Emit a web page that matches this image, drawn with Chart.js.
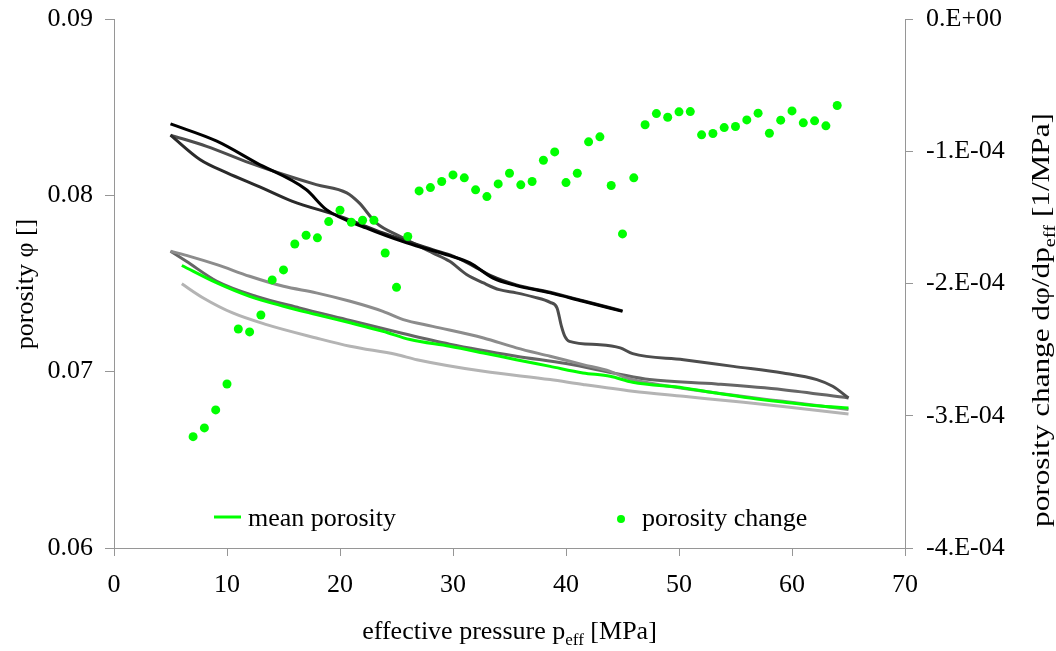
<!DOCTYPE html>
<html><head><meta charset="utf-8">
<script src="https://cdn.jsdelivr.net/npm/chart.js@4.4.1/dist/chart.umd.min.js"></script>
<style>html,body{margin:0;padding:0;background:#fff;}</style>
</head><body>
<canvas id="c" width="1056" height="651" style="display:block;width:1056px;height:651px"></canvas>
<script>
const FONT = "'Liberation Serif','Times New Roman',serif";

// x-axis ticks (MPa) and y tick ranges
const pressureTicks = [0, 10, 20, 30, 40, 50, 60, 70];
const porosityTicks = [0.06, 0.07, 0.08, 0.09];
const changeTicks = [-4e-4, -3e-4, -2e-4, -1e-4, 0];

// individual sample porosity curves
const pressA = [5.0, 9.1, 12.6, 17.0, 18.8, 22.3, 25.9, 29.7, 31.5, 33.5, 35.6, 38.6, 41.5, 45.0];
const phiA   = [0.08405, 0.08307, 0.08184, 0.08033, 0.07919, 0.07815, 0.07730, 0.07658, 0.07617, 0.07532, 0.07488, 0.07447, 0.07399, 0.07342];

const pressB = [5.0, 7.6, 10.0, 12.9, 15.8, 20.0, 23.8, 28.2, 30.0, 31.5, 33.5, 35.6, 38.6, 41.5, 45.0];
const phiB   = [0.08341, 0.08203, 0.08127, 0.08048, 0.07966, 0.07881, 0.07787, 0.07692, 0.07655, 0.07610, 0.07540, 0.07492, 0.07450, 0.07402, 0.07345];

const pressC = [5.0, 8.2, 12.0, 15.0, 17.9, 20.6, 21.7, 23.2, 25.3, 28.2, 29.7, 31.2, 32.7, 34.1, 35.6, 37.1, 38.6, 39.2, 39.6, 39.9, 40.3, 43.0, 44.8, 45.9, 50.4, 54.8, 59.2, 62.2, 63.6, 65.0];
const phiC   = [0.08341, 0.08278, 0.08184, 0.08118, 0.08061, 0.08014, 0.07957, 0.07844, 0.07768, 0.07674, 0.07626, 0.07551, 0.07503, 0.07465, 0.07447, 0.07424, 0.07393, 0.07362, 0.07257, 0.07200, 0.07172, 0.07153, 0.07135, 0.07102, 0.07068, 0.07030, 0.06993, 0.06955, 0.06917, 0.06851];

const pressD = [5.0, 6.7, 9.1, 12.0, 15.0, 17.9, 20.9, 23.8, 25.6, 28.2, 32.7, 35.6, 38.6, 41.5, 43.9, 45.3, 47.4, 53.3, 59.2, 65.0];
const phiD   = [0.07683, 0.07654, 0.07607, 0.07541, 0.07484, 0.07447, 0.07399, 0.07342, 0.07295, 0.07257, 0.07191, 0.07135, 0.07087, 0.07040, 0.07002, 0.06965, 0.06936, 0.06879, 0.06832, 0.06785];

const pressE = [5.0, 6.4, 9.1, 12.6, 16.4, 20.9, 25.3, 29.7, 35.6, 40.0, 44.5, 47.4, 53.3, 59.2, 65.0];
const phiE   = [0.07683, 0.07626, 0.07513, 0.07427, 0.07362, 0.07291, 0.07221, 0.07156, 0.07088, 0.07046, 0.06989, 0.06955, 0.06930, 0.06898, 0.06851];

const pressF = [6.0, 7.9, 10.5, 13.5, 17.9, 20.9, 25.0, 26.8, 32.7, 38.6, 41.5, 45.9, 50.4, 54.8, 59.2, 65.0];
const phiF   = [0.07498, 0.07418, 0.07333, 0.07267, 0.07191, 0.07144, 0.07097, 0.07068, 0.07002, 0.06955, 0.06927, 0.06889, 0.06860, 0.06832, 0.06803, 0.06760];

// mean porosity
const pressMean = [6.0, 9.1, 12.0, 15.0, 17.9, 20.9, 23.8, 26.2, 29.7, 32.7, 35.6, 38.6, 41.5, 43.9, 45.9, 50.4, 53.3, 56.3, 59.2, 62.2, 65.0];
const phiMean   = [0.07602, 0.07503, 0.07427, 0.07371, 0.07324, 0.07277, 0.07229, 0.07182, 0.07144, 0.07106, 0.07068, 0.07030, 0.06993, 0.06974, 0.06940, 0.06908, 0.06879, 0.06851, 0.06828, 0.06807, 0.06794];

// porosity change dphi/dp (1/MPa)
const pressChange = [7,8,9,10,11,12,13,14,15,16,17,18,19,20,21,22,23,24,25,26,27,28,29,30,31,32,33,34,35,36,37,38,39,40,41,42,43,44,45,46,47,48,49,50,51,52,53,54,55,56,57,58,59,60,61,62,63,64];
const dPhi = [-3.158e-4,-3.092e-4,-2.956e-4,-2.760e-4,-2.344e-4,-2.366e-4,-2.238e-4,-1.973e-4,-1.897e-4,-1.701e-4,
  -1.635e-4,-1.655e-4,-1.532e-4,-1.446e-4,-1.537e-4,-1.522e-4,-1.522e-4,-1.769e-4,-2.029e-4,-1.645e-4,
  -1.300e-4,-1.275e-4,-1.229e-4,-1.179e-4,-1.201e-4,-1.292e-4,-1.343e-4,-1.247e-4,-1.166e-4,-1.254e-4,
  -1.229e-4,-1.068e-4,-1.005e-4,-1.237e-4,-1.166e-4,-0.929e-4,-0.891e-4,-1.259e-4,-1.625e-4,-1.201e-4,
  -0.800e-4,-0.715e-4,-0.743e-4,-0.702e-4,-0.700e-4,-0.876e-4,-0.866e-4,-0.821e-4,-0.813e-4,-0.763e-4,
  -0.712e-4,-0.864e-4,-0.765e-4,-0.695e-4,-0.785e-4,-0.770e-4,-0.808e-4,-0.654e-4];

const xy = (xs, ys) => xs.map((x, i) => ({x, y: ys[i]}));
const lineDs = (label, xs, ys, color) => ({
  type: 'line', label, data: xy(xs, ys), borderColor: color, backgroundColor: color,
  borderWidth: 3, pointRadius: 0, cubicInterpolationMode: 'monotone', yAxisID: 'y', order: 2
});

const GREEN = '#00ff00';
const AXIS = '#969696';

function drawRich(ctx, parts, cx, cy, rot, sx) {
  const main = '26px ' + FONT, sub = '17px ' + FONT;
  let w = 0;
  parts.forEach(p => { ctx.font = p.sub ? sub : main; p.w = ctx.measureText(p.t).width; w += p.w; });
  ctx.save();
  ctx.translate(cx, cy); ctx.rotate(rot); ctx.scale(sx || 1, 1);
  ctx.textAlign = 'left'; ctx.textBaseline = 'alphabetic'; ctx.fillStyle = '#000';
  let x = -w / 2;
  parts.forEach(p => { ctx.font = p.sub ? sub : main; ctx.fillText(p.t, x, p.sub ? 15 : 9); x += p.w; });
  ctx.restore();
}

const decorPlugin = {
  id: 'decor',
  afterDraw(chart) {
    const ctx = chart.ctx, a = chart.chartArea;
    drawRich(ctx, [{t: 'effective pressure p'}, {t: 'eff', sub: true}, {t: ' [MPa]'}], (a.left + a.right) / 2, 630, 0);
    drawRich(ctx, [{t: 'porosity φ []'}], 24, 284, -Math.PI / 2);
    drawRich(ctx, [{t: 'porosity change dφ/dp'}, {t: 'eff', sub: true}, {t: ' [1/MPa]'}], 1040, 320, -Math.PI / 2, 1.2);
    // legend
    const ds = chart.data.datasets;
    ctx.save();
    ctx.strokeStyle = GREEN; ctx.lineWidth = 3;
    ctx.beginPath(); ctx.moveTo(214, 517); ctx.lineTo(241, 517); ctx.stroke();
    ctx.fillStyle = GREEN;
    ctx.beginPath(); ctx.arc(621, 519, 4, 0, Math.PI * 2); ctx.fill();
    ctx.fillStyle = '#000'; ctx.font = '26px ' + FONT; ctx.textBaseline = 'alphabetic'; ctx.textAlign = 'left';
    ctx.fillText(ds[6].label, 248, 526);
    ctx.fillText(ds[7].label, 642, 526);
    ctx.restore();
  }
};

new Chart(document.getElementById('c'), {
  data: {
    datasets: [
      lineDs('sample 1', pressA, phiA, '#000000'),
      lineDs('sample 2', pressB, phiB, '#2a2a2a'),
      lineDs('sample 3', pressC, phiC, '#4d4d4d'),
      lineDs('sample 4', pressD, phiD, '#8c8c8c'),
      lineDs('sample 5', pressE, phiE, '#666666'),
      lineDs('sample 6', pressF, phiF, '#b4b4b4'),
      Object.assign(lineDs('mean porosity', pressMean, phiMean, GREEN), {order: 1}),
      {type: 'scatter', label: 'porosity change', data: xy(pressChange, dPhi), yAxisID: 'y2',
       backgroundColor: GREEN, borderColor: GREEN, pointRadius: 4.5, pointBorderWidth: 0, order: 0}
    ]
  },
  options: {
    responsive: false, animation: false, devicePixelRatio: 1,
    layout: {padding: {top: 19, left: 0, right: 0, bottom: 0}},
    plugins: {legend: {display: false}, tooltip: {enabled: false}},
    scales: {
      x: {
        type: 'linear', position: 'bottom', min: pressureTicks[0], max: pressureTicks[pressureTicks.length - 1],
        afterBuildTicks: s => { s.ticks = pressureTicks.map(v => ({value: v})); },
        afterFit: s => { s.height = 103; },
        border: {display: true, color: AXIS, width: 1},
        grid: {drawOnChartArea: false, drawTicks: true, tickLength: 8, color: AXIS},
        ticks: {color: '#000', font: {family: FONT, size: 26}, padding: 14, maxRotation: 0}
      },
      y: {
        type: 'linear', position: 'left', min: porosityTicks[0], max: porosityTicks[porosityTicks.length - 1],
        afterBuildTicks: s => { s.ticks = porosityTicks.map(v => ({value: v})); },
        afterFit: s => { s.width = 114; s.paddingTop = 0; s.paddingBottom = 0; },
        border: {display: true, color: AXIS, width: 1},
        grid: {drawOnChartArea: false, drawTicks: true, tickLength: 9, color: AXIS},
        ticks: {color: '#000', font: {family: FONT, size: 26, lineHeight: 0.8}, padding: 12, callback: v => Number(v).toFixed(2)}
      },
      y2: {
        type: 'linear', position: 'right', min: changeTicks[0], max: changeTicks[changeTicks.length - 1],
        afterBuildTicks: s => { s.ticks = changeTicks.map(v => ({value: v})); },
        afterFit: s => { s.width = 151; s.paddingTop = 0; s.paddingBottom = 0; },
        border: {display: true, color: AXIS, width: 1},
        grid: {drawOnChartArea: false, drawTicks: true, tickLength: 8, color: AXIS},
        ticks: {color: '#000', font: {family: FONT, size: 26, lineHeight: 0.8}, padding: 13,
          callback: v => { const m = Math.round(v / 1e-4); return m === 0 ? '0.E+00' : m + '.E-04'; }}
      }
    }
  },
  plugins: [decorPlugin]
});
</script>
</body></html>
